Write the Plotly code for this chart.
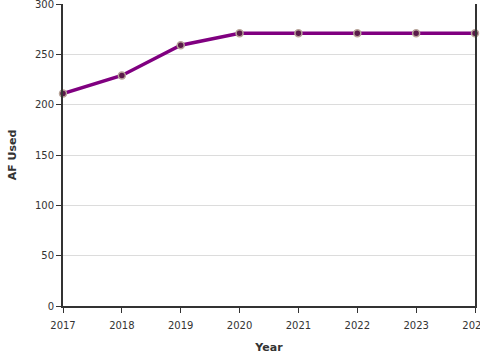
import plotly.graph_objects as go

years = [2017, 2018, 2019, 2020, 2021, 2022, 2023, 2024]
af_used = [211, 229, 259, 271, 271, 271, 271, 271]

fig = go.Figure()
fig.add_trace(go.Scatter(
    x=years, y=af_used, mode="lines+markers",
    line=dict(color="#800080", width=3.5),
    marker=dict(size=7, color="#5a1a4a", line=dict(color="#b8a59a", width=1.5)),
    cliponaxis=False,
))
fig.update_layout(
    width=480, height=360,
    margin=dict(l=63, r=5, t=4, b=54),
    paper_bgcolor="white", plot_bgcolor="white",
    font=dict(family="DejaVu Sans", size=10, color="#333"),
    showlegend=False,
    xaxis=dict(
        range=[2017, 2024], tickmode="array", tickvals=years,
        ticktext=[str(y) for y in years], automargin=False,
        ticklabeloverflow="allow", ticklabelstandoff=4,
        showline=True, linecolor="#333", linewidth=2,
        ticks="outside", ticklen=5, tickcolor="#333",
        showgrid=False, zeroline=False,
        title=dict(text="<b>Year</b>", font=dict(size=11, color="#333"), standoff=13),
    ),
    yaxis=dict(
        range=[0, 300], tickvals=[0, 50, 100, 150, 200, 250, 300],
        showline=True, linecolor="#333", linewidth=2, mirror=True, automargin=False,
        ticklabeloverflow="allow",
        ticks="outside", ticklen=5, tickcolor="#333",
        showgrid=True, gridcolor="#dcdcdc", zeroline=False,
        title=dict(text="<b>AF Used</b>", font=dict(size=11, color="#333"), standoff=16),
    ),
)
fig.write_html("out.html", config={"displayModeBar": False},
               post_script="document.body.style.margin='0';document.body.style.overflow='hidden';")
